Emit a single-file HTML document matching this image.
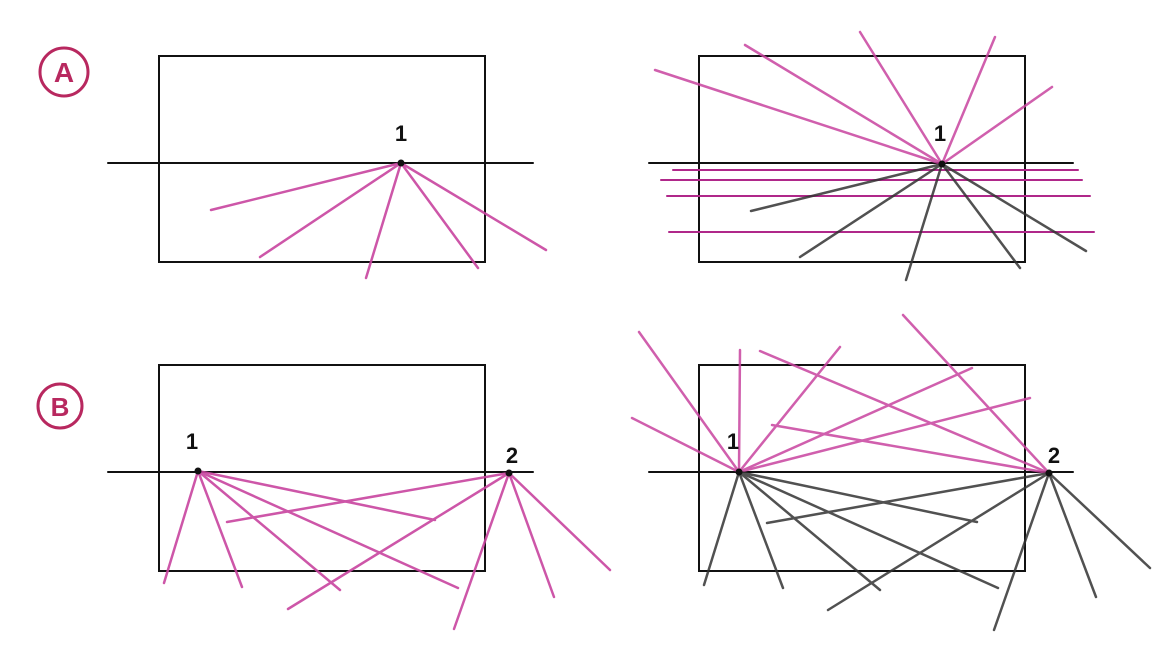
<!DOCTYPE html>
<html><head><meta charset="utf-8"><style>
html,body{margin:0;padding:0;background:#fff;}
svg{display:block;}
text{font-family:"Liberation Sans",sans-serif;font-weight:bold;}
</style></head><body>
<svg width="1152" height="648" viewBox="0 0 1152 648" xmlns="http://www.w3.org/2000/svg">
<g fill="none" stroke-linecap="round">
<!-- labels -->
<circle cx="64" cy="72" r="24" stroke="#b8285f" stroke-width="3"/>
<text x="64" y="82" font-size="28" fill="#b8285f" text-anchor="middle" stroke="none">A</text>
<circle cx="60" cy="406" r="22" stroke="#b8285f" stroke-width="3"/>
<text x="60" y="416" font-size="26" fill="#b8285f" text-anchor="middle" stroke="none">B</text>

<!-- TL -->
<rect x="159" y="56" width="326" height="206" stroke="#111" stroke-width="2"/>
<line x1="108" y1="163" x2="533" y2="163" stroke="#111" stroke-width="2"/>
<g stroke="#c8449f" stroke-width="2.5" opacity="0.9">
<line x1="401" y1="163" x2="211" y2="210"/>
<line x1="401" y1="163" x2="260" y2="257"/>
<line x1="401" y1="163" x2="366" y2="278"/>
<line x1="401" y1="163" x2="478" y2="268"/>
<line x1="401" y1="163" x2="546" y2="250"/>
</g>
<circle cx="401" cy="163" r="3.5" fill="#111" stroke="none"/>
<text x="401" y="141" font-size="22" fill="#111" text-anchor="middle" stroke="none">1</text>

<!-- TR -->
<rect x="699" y="56" width="326" height="206" stroke="#111" stroke-width="2"/>
<line x1="649" y1="163" x2="1073" y2="163" stroke="#111" stroke-width="2"/>
<g stroke="#c8449f" stroke-width="2.5" opacity="0.85">
<line x1="942" y1="164" x2="655" y2="70"/>
<line x1="942" y1="164" x2="745" y2="45"/>
<line x1="942" y1="164" x2="860" y2="32"/>
<line x1="942" y1="164" x2="995" y2="37"/>
<line x1="942" y1="164" x2="1052" y2="87"/>
</g>
<g stroke="#b0288a" stroke-width="2">
<line x1="673" y1="170" x2="1078" y2="170"/>
<line x1="661" y1="180" x2="1082" y2="180"/>
<line x1="667" y1="196" x2="1090" y2="196"/>
<line x1="669" y1="232" x2="1094" y2="232"/>
</g>
<g stroke="#333" stroke-width="2.5" opacity="0.85">
<line x1="942" y1="164" x2="751" y2="211"/>
<line x1="942" y1="164" x2="800" y2="257"/>
<line x1="942" y1="164" x2="906" y2="280"/>
<line x1="942" y1="164" x2="1020" y2="268"/>
<line x1="942" y1="164" x2="1086" y2="251"/>
</g>
<circle cx="942" cy="164" r="3.5" fill="#111" stroke="none"/>
<text x="940" y="141" font-size="22" fill="#111" text-anchor="middle" stroke="none">1</text>

<!-- BL -->
<rect x="159" y="365" width="326" height="206" stroke="#111" stroke-width="2"/>
<line x1="108" y1="472" x2="533" y2="472" stroke="#111" stroke-width="2"/>
<g stroke="#c8449f" stroke-width="2.5" opacity="0.9">
<line x1="198" y1="471" x2="164" y2="583"/>
<line x1="198" y1="471" x2="242" y2="587"/>
<line x1="198" y1="471" x2="340" y2="590"/>
<line x1="198" y1="471" x2="458" y2="588"/>
<line x1="198" y1="471" x2="435" y2="520"/>
<line x1="509" y1="473" x2="227" y2="522"/>
<line x1="509" y1="473" x2="288" y2="609"/>
<line x1="509" y1="473" x2="454" y2="629"/>
<line x1="509" y1="473" x2="554" y2="597"/>
<line x1="509" y1="473" x2="610" y2="570"/>
</g>
<circle cx="198" cy="471" r="3.5" fill="#111" stroke="none"/>
<circle cx="509" cy="473" r="3.5" fill="#111" stroke="none"/>
<text x="192" y="449" font-size="22" fill="#111" text-anchor="middle" stroke="none">1</text>
<text x="512" y="463" font-size="22" fill="#111" text-anchor="middle" stroke="none">2</text>

<!-- BR -->
<rect x="699" y="365" width="326" height="206" stroke="#111" stroke-width="2"/>
<line x1="649" y1="472" x2="1073" y2="472" stroke="#111" stroke-width="2"/>
<g stroke="#c8449f" stroke-width="2.5" opacity="0.85">
<line x1="739" y1="472" x2="632" y2="418"/>
<line x1="739" y1="472" x2="639" y2="332"/>
<line x1="739" y1="472" x2="740" y2="350"/>
<line x1="739" y1="472" x2="840" y2="347"/>
<line x1="739" y1="472" x2="972" y2="368"/>
<line x1="739" y1="472" x2="1030" y2="398"/>
<line x1="1049" y1="473" x2="760" y2="351"/>
<line x1="1049" y1="473" x2="903" y2="315"/>
<line x1="1049" y1="473" x2="772" y2="425"/>
</g>
<g stroke="#333" stroke-width="2.5" opacity="0.85">
<line x1="739" y1="472" x2="704" y2="585"/>
<line x1="739" y1="472" x2="783" y2="588"/>
<line x1="739" y1="472" x2="880" y2="590"/>
<line x1="739" y1="472" x2="998" y2="588"/>
<line x1="739" y1="472" x2="977" y2="522"/>
<line x1="1049" y1="473" x2="767" y2="523"/>
<line x1="1049" y1="473" x2="828" y2="610"/>
<line x1="1049" y1="473" x2="994" y2="630"/>
<line x1="1049" y1="473" x2="1096" y2="597"/>
<line x1="1049" y1="473" x2="1150" y2="568"/>
</g>
<circle cx="739" cy="472" r="3.5" fill="#111" stroke="none"/>
<circle cx="1049" cy="473" r="3.5" fill="#111" stroke="none"/>
<text x="733" y="449" font-size="22" fill="#111" text-anchor="middle" stroke="none">1</text>
<text x="1054" y="463" font-size="22" fill="#111" text-anchor="middle" stroke="none">2</text>
</g>
</svg>
</body></html>
